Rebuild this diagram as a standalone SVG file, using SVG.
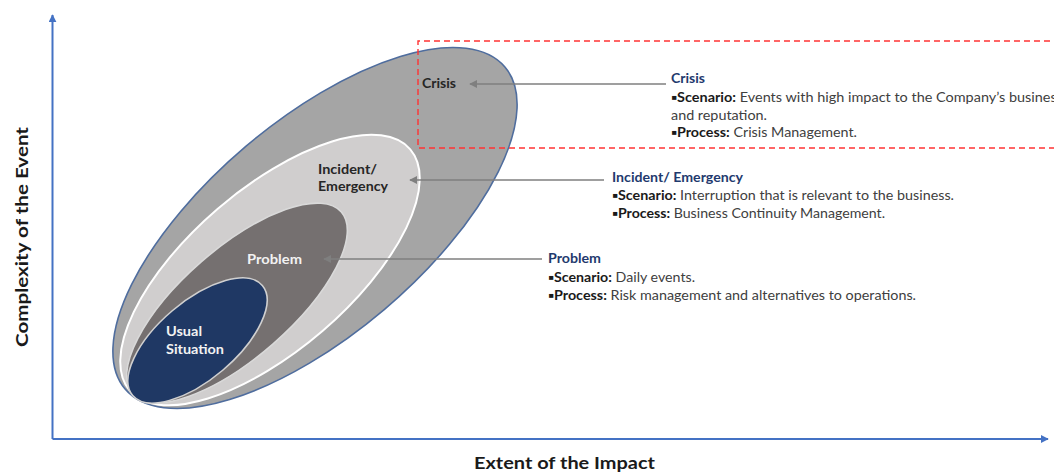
<svg xmlns="http://www.w3.org/2000/svg" width="1054" height="473" viewBox="0 0 1054 473">
  <style>
    .axis { stroke: #4472c4; stroke-width: 2; fill: none; }
    .axis-label { font-family: Lato, "Liberation Sans", sans-serif; font-weight: bold; font-size: 17px; fill: #1a1a1a; }
    .lbl { font-family: Lato, "Liberation Sans", sans-serif; font-weight: bold; font-size: 13px; }
    .lbl-dark { fill: #262626; }
    .lbl-light { fill: #f2f2f2; }
    .desc { font-family: Lato, "Liberation Sans", sans-serif; font-size: 13px; fill: #404040; }
    .desc .b { font-weight: bold; fill: #1a1a1a; }
    .title { font-family: Lato, "Liberation Sans", sans-serif; font-weight: bold; font-size: 13px; fill: #1f3a6e; }
    .conn { stroke: #7f7f7f; stroke-width: 1.6; fill: none; marker-end: url(#head); }
    .focus { stroke: #ff3333; stroke-width: 1.4; stroke-dasharray: 6 4; fill: none; }
  </style>
  <defs>
    <marker id="head" viewBox="0 0 10 10" refX="9" refY="5" markerWidth="5" markerHeight="5" orient="auto" markerUnits="strokeWidth">
      <path d="M0,0 L10,5 L0,10 z" fill="#7f7f7f"/>
    </marker>
    <marker id="axis-head" viewBox="0 0 10 10" refX="9" refY="5" markerWidth="4" markerHeight="4" orient="auto" markerUnits="strokeWidth">
      <path d="M0,0 L10,5 L0,10 z" fill="#4472c4"/>
    </marker>
  </defs>

  <!-- axes -->
  <g id="axes">
    <path class="axis" d="M52.5,439 L52.5,15" marker-end="url(#axis-head)"/>
    <path class="axis" d="M52.5,439 L1048,439" marker-end="url(#axis-head)"/>
    <text class="axis-label" transform="translate(28 237) rotate(-90)" text-anchor="middle" textLength="220" lengthAdjust="spacingAndGlyphs">Complexity of the Event</text>
    <text class="axis-label" x="474" y="469" textLength="181" lengthAdjust="spacingAndGlyphs">Extent of the Impact</text>
  </g>

  <!-- nested levels -->
  <g id="crisis">
    <ellipse cx="0" cy="0" rx="249" ry="107" transform="translate(315 228) rotate(-40.3)" fill="#a5a5a5" stroke="#4f6d9e" stroke-width="1.6"/>
    <text class="lbl lbl-dark" x="422" y="88" textLength="34" lengthAdjust="spacingAndGlyphs">Crisis</text>
  </g>
  <g id="incident">
    <ellipse cx="0" cy="0" rx="185" ry="80.5" transform="translate(270 270) rotate(-40.7)" fill="#d0cece" stroke="#ffffff" stroke-width="2"/>
    <text class="lbl lbl-dark" x="318" y="174" textLength="59" lengthAdjust="spacingAndGlyphs">Incident/</text>
    <text class="lbl lbl-dark" x="318" y="191" textLength="70" lengthAdjust="spacingAndGlyphs">Emergency</text>
  </g>
  <g id="problem">
    <ellipse cx="0" cy="0" rx="138.5" ry="54.5" transform="translate(237 303) rotate(-41.1)" fill="#757070" stroke="#d9d9d9" stroke-width="1.6"/>
    <text class="lbl lbl-light" x="247" y="264" textLength="55" lengthAdjust="spacingAndGlyphs">Problem</text>
  </g>
  <g id="usual">
    <ellipse cx="0" cy="0" rx="85" ry="39" transform="translate(197.5 340.5) rotate(-40.3)" fill="#1f3864" stroke="#d0d0d0" stroke-width="1.6"/>
    <text class="lbl lbl-light" x="166" y="336" textLength="36" lengthAdjust="spacingAndGlyphs">Usual</text>
    <text class="lbl lbl-light" x="166" y="354" textLength="58" lengthAdjust="spacingAndGlyphs">Situation</text>
  </g>

  <!-- highlighted crisis zone -->
  <g id="crisis-zone">
    <path class="focus" d="M1060,41 L418,41 L418,148 L1060,148"/>
  </g>

  <!-- descriptions -->
  <g id="crisis-desc">
    <text class="title" x="671" y="83" textLength="34" lengthAdjust="spacingAndGlyphs">Crisis</text>
    <text class="desc" x="671" y="102" textLength="392" lengthAdjust="spacingAndGlyphs"><tspan class="b">▪Scenario:</tspan> Events with high impact to the Company’s business</text>
    <text class="desc" x="671" y="119.5" textLength="96" lengthAdjust="spacingAndGlyphs">and reputation.</text>
    <text class="desc" x="671" y="137" textLength="186" lengthAdjust="spacingAndGlyphs"><tspan class="b">▪Process:</tspan> Crisis Management.</text>
  </g>
  <g id="incident-desc">
    <text class="title" x="612" y="182" textLength="131" lengthAdjust="spacingAndGlyphs">Incident/ Emergency</text>
    <text class="desc" x="612" y="200" textLength="342" lengthAdjust="spacingAndGlyphs"><tspan class="b">▪Scenario:</tspan> Interruption that is relevant to the business.</text>
    <text class="desc" x="612" y="218" textLength="273" lengthAdjust="spacingAndGlyphs"><tspan class="b">▪Process:</tspan> Business Continuity Management.</text>
  </g>
  <g id="problem-desc">
    <text class="title" x="548" y="263" textLength="53" lengthAdjust="spacingAndGlyphs">Problem</text>
    <text class="desc" x="548" y="282" textLength="147" lengthAdjust="spacingAndGlyphs"><tspan class="b">▪Scenario:</tspan> Daily events.</text>
    <text class="desc" x="548" y="300" textLength="368" lengthAdjust="spacingAndGlyphs"><tspan class="b">▪Process:</tspan> Risk management and alternatives to operations.</text>
  </g>

  <!-- connectors -->
  <g id="connectors">
    <path class="conn" d="M666,84 L470,84"/>
    <path class="conn" d="M604,180 L410,180"/>
    <path class="conn" d="M542,259 L324,259"/>
  </g>
</svg>
